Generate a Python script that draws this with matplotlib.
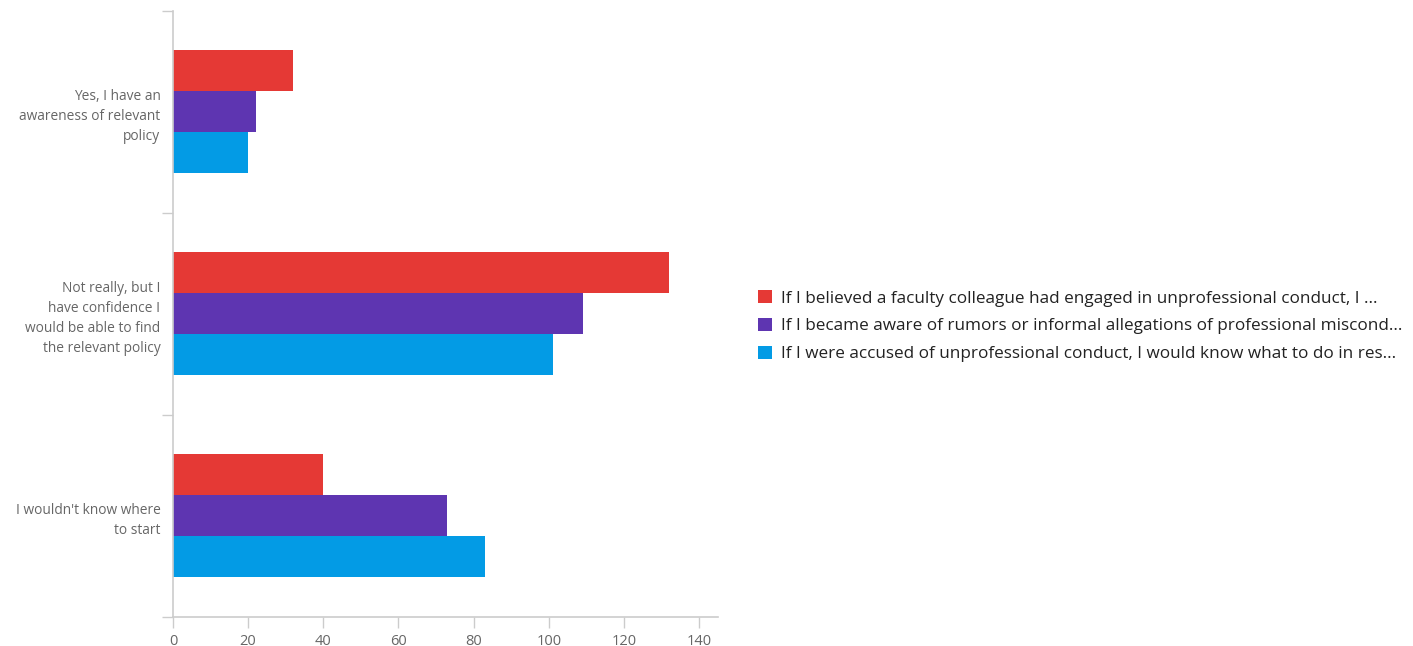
import numpy as np
import matplotlib.pyplot as plt
from matplotlib.ticker import FixedLocator

plt.rcParams['font.family'] = ['Open Sans', 'DejaVu Sans']

categories = ["Yes, I have an\nawareness of relevant\npolicy",
              "Not really, but I\nhave confidence I\nwould be able to find\nthe relevant policy",
              "I wouldn't know where\nto start"]
series_names = ["If I believed a faculty colleague had engaged in unprofessional conduct, I ...",
                "If I became aware of rumors or informal allegations of professional miscond...",
                "If I were accused of unprofessional conduct, I would know what to do in res..."]
red_vals = [32, 132, 40]
purple_vals = [22, 109, 73]
blue_vals = [20, 101, 83]
colors = ['#E53935', '#5E35B1', '#039BE5']
xticks = [0, 20, 40, 60, 80, 100, 120, 140]

fig = plt.figure(figsize=(14.13, 6.46), dpi=100)
ax = fig.add_axes([0.1224, 0.045, 0.3857, 0.938])

y = np.arange(len(categories))
h = 0.203
for i, (vals, c, name) in enumerate(zip([red_vals, purple_vals, blue_vals], colors, series_names)):
    ax.barh(y + (i - 1) * h, vals, height=h, color=c, label=name)

ax.set_xlim(0, 145)
ax.set_ylim(len(categories) - 0.5, -0.5)

for s in ['top', 'right']:
    ax.spines[s].set_visible(False)
for s in ['left', 'bottom']:
    ax.spines[s].set_color('#cccccc')
    ax.spines[s].set_linewidth(1.2)

ax.set_xticks(xticks)
ax.tick_params(axis='x', colors='#cccccc', labelcolor='#666666', labelsize=10.5, length=8, width=1, pad=4)

# boundary ticks as major, category labels as minor
ax.yaxis.set_major_locator(FixedLocator([-0.5, 0.5, 1.5, 2.5]))
ax.yaxis.set_major_formatter(plt.NullFormatter())
ax.yaxis.set_minor_locator(FixedLocator(y))
ax.set_yticklabels(categories, minor=True)
ax.tick_params(axis='y', which='major', colors='#cccccc', length=8, width=1)
ax.tick_params(axis='y', which='minor', length=0, pad=9, labelcolor='#666666', labelsize=9.9)
for lbl in ax.get_yticklabels(minor=True):
    lbl.set_horizontalalignment('right')
    lbl.set_linespacing(1.45)

ax.legend(loc='center left', bbox_to_anchor=(1.045, 0.48), frameon=False, fontsize=12.3,
          handlelength=0.8, handleheight=0.8, handletextpad=0.55, labelspacing=0.66,
          labelcolor='#222222')

fig.savefig('out.png', dpi=100)
